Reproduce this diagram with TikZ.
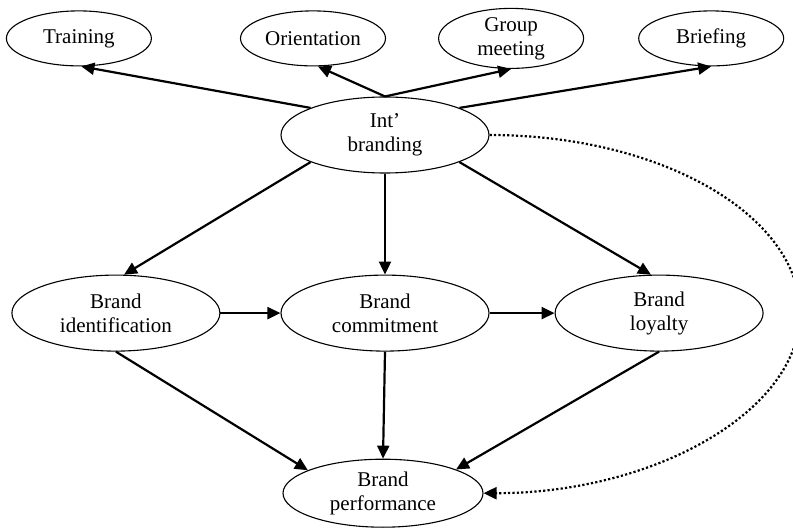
\documentclass[tikz,border=0pt]{standalone}
\usepackage{fontspec}
\setmainfont{Liberation Serif}
\usetikzlibrary{positioning, shapes.geometric, arrows.meta}

\begin{document}
\begin{tikzpicture}[x=1pt, y=-1pt,
  main/.style = {draw, ellipse, line width=1.1pt, inner sep=0pt, align=center,
    minimum width=145pt, minimum height=55pt, font=\fontsize{21}{24}\selectfont},
  big/.style = {main, minimum width=208pt, minimum height=76pt},
  link/.style = {line width=2.2pt, -{Triangle[length=13pt, width=12pt]}}]
\useasboundingbox (0,0) rectangle (793,529);

\node[big] (int) at (385,135) {Int'\\branding};
\node[main] (ori) [above=30pt of int, xshift=-72pt] {Orientation};
\node[main] (train) [left=88pt of ori] {Training};
\node[main] (grp) [right=52pt of ori] {Group\\meeting};
\node[main] (brf) [right=54pt of grp] {Briefing};
\node[big] (com) [below=101pt of int] {Brand\\commitment};
\node[big] (ide) [left=60pt of com] {Brand\\identification};
\node[big] (loy) [right=65pt of com] {Brand\\loyalty};
\node[big, minimum width=200pt, minimum height=68pt] (perf) [below=107pt of com, xshift=-2pt] {Brand\\performance};
\coordinate (bend) at (800,313);

\draw[link] (int.160) -- (train.-85);
\draw[link] (int.north) -- (ori.-80);
\draw[link] (int.north) -- (grp.south);
\draw[link] (int.20) -- (brf.south);
\draw[link] (int.200) -- (ide.78);
\draw[link] (int.south) -- (com.north);
\draw[link] (int.-20) -- (loy.102);
\draw[link] (ide.east) -- (com.west);
\draw[link] (com.east) -- (loy.west);
\draw[link] (ide.south) -- (perf.163);
\draw[link] (com.south) -- (perf.north);
\draw[link] (loy.south) -- (perf.18);
% dotted feedback loop
\draw[-{Triangle[length=13pt, width=12pt]}, line width=2.2pt, dash pattern=on 2.2pt off 2.2pt]
  (int.east) .. controls +(171,0) and +(0,-98) .. (bend)
  .. controls +(0,98) and +(171,0) .. (perf.east);

\end{tikzpicture}
\end{document}
